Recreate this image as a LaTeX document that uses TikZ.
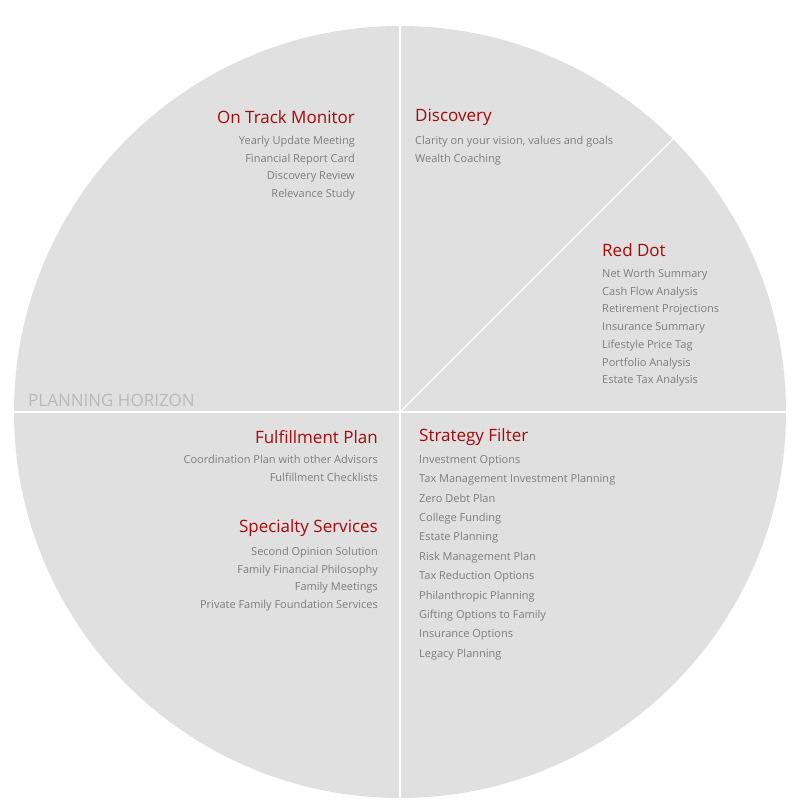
\documentclass[tikz,border=0pt]{standalone}
\usepackage{fontspec}
\setmainfont{Open Sans}
\definecolor{pie}{HTML}{E1E0E0}
\definecolor{ttl}{HTML}{A30A0A}
\definecolor{itm}{HTML}{7D7D7D}
\definecolor{hor}{HTML}{B9B9B9}
\begin{document}
\begin{tikzpicture}[x=1pt,y=-1pt,
  ttl/.style={text=ttl,font=\fontsize{17}{20}\selectfont,inner sep=0pt},
  itm/.style={text=itm,font=\fontsize{11}{17.7}\selectfont,inner sep=0pt},
  sep/.style={draw=white,line width=1.2pt}]
\useasboundingbox (0,0) rectangle (800,800);
\node[circle,fill=pie,minimum size=772pt,inner sep=0pt] (pie) at (400,412) {};
\coordinate (c) at (400,412);
\draw[sep] (c) -- (pie.north);
\draw[sep] (c) -- (pie.south);
\draw[sep] (c) -- (pie.west);
\draw[sep] (c) -- (pie.east);
\draw[sep] (c) -- (pie.north east);
\node[ttl,anchor=east] (otm) at (355,117) {On Track Monitor};
\node[itm,anchor=north east,align=right] (otmi) at (355,136) {Yearly Update Meeting\\Financial Report Card\\Discovery Review\\Relevance Study};
\node[ttl,anchor=west] (dis) at (415,117) {Discovery};
\node[itm,anchor=north west,align=left] (disi) at (415,136) {Clarity on your vision, values and goals\\Wealth Coaching};
\node[ttl,anchor=west] (rd) at (602,250) {Red Dot};
\node[itm,anchor=north west,align=left] (rdi) at (602,269) {Net Worth Summary\\Cash Flow Analysis\\Retirement Projections\\Insurance Summary\\Lifestyle Price Tag\\Portfolio Analysis\\Estate Tax Analysis};
\node[anchor=west,text=hor,font=\fontsize{17}{20}\selectfont,inner sep=0pt] (ph) at (28,400) {PLANNING HORIZON};
\node[ttl,anchor=east] (fp) at (378,437) {Fulfillment Plan};
\node[itm,anchor=north east,align=right] (fpi) at (378,455) {Coordination Plan with other Advisors\\Fulfillment Checklists};
\node[ttl,anchor=east] (ss) at (378,528) {Specialty Services};
\node[itm,anchor=north east,align=right] (ssi) at (378,547) {Second Opinion Solution\\Family Financial Philosophy\\Family Meetings\\Private Family Foundation Services};
\node[ttl,anchor=west] (sf) at (419,437) {Strategy Filter};
\node[itm,anchor=north west,align=left,font=\fontsize{11}{19.4}\selectfont] (sfi) at (419,455) {Investment Options\\Tax Management Investment Planning\\Zero Debt Plan\\College Funding\\Estate Planning\\Risk Management Plan\\Tax Reduction Options\\Philanthropic Planning\\Gifting Options to Family\\Insurance Options\\Legacy Planning};
\end{tikzpicture}
\end{document}
